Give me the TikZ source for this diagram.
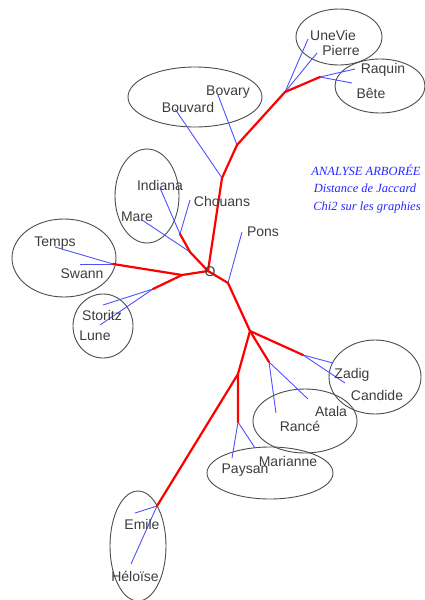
\documentclass[tikz,border=0pt]{standalone}
\usepackage{fontspec}
\setmainfont{Liberation Sans}
\newfontfamily\titlefont{Liberation Serif}
\usepackage{xcolor}
\usetikzlibrary{positioning}
\definecolor{treered}{RGB}{255,0,0}
\definecolor{leafblue}{RGB}{80,80,255}
\definecolor{labelgray}{RGB}{60,60,60}
\definecolor{titleblue}{RGB}{40,40,255}
\tikzset{
  redbranch/.style={treered, line width=2.2pt, line cap=round, line join=round},
  bluebranch/.style={leafblue, line width=0.9pt},
  grouping/.style={draw=black!70, line width=0.9pt},
  leaflabel/.style={labelgray, inner sep=0pt, font=\fontsize{14}{16}\selectfont},
  titleline/.style={titleblue, inner sep=0pt, font=\titlefont\itshape\fontsize{12.5}{14}\selectfont}
}

\begin{document}
\begin{tikzpicture}[x=1pt, y=-1pt]
      \useasboundingbox (0,0) rectangle (424,600);
      % junctions of the tree
      \coordinate (o) at (208,271);
      \coordinate (a1) at (222,178);
      \coordinate (a2) at (237,145);
      \coordinate (a3) at (285,92);
      \coordinate (a4) at (320,77);
      \coordinate (b1) at (190,252);
      \coordinate (b2) at (180,234);
      \coordinate (c1) at (182,275);
      \coordinate (c2) at (113,264);
      \coordinate (c3) at (153,289);
      \coordinate (d1) at (228,283);
      \coordinate (d2) at (250,331);
      \coordinate (d3) at (303,355);
      \coordinate (d4) at (269,362);
      \coordinate (d5) at (238,374);
      \coordinate (d6) at (238,422);
      \coordinate (d7) at (157,506);
      % ends of the leaves
      \coordinate (bouvard-tip) at (175,109);
      \coordinate (bovary-tip) at (218,95);
      \coordinate (unevie-tip) at (308,39);
      \coordinate (pierre-tip) at (317,53);
      \coordinate (raquin-tip) at (355,69);
      \coordinate (bete-tip) at (352,83);
      \coordinate (mare-tip) at (142,220);
      \coordinate (indiana-tip) at (160,188);
      \coordinate (chouans-tip) at (190,200);
      \coordinate (temps-tip) at (55,247);
      \coordinate (swann-tip) at (80,264);
      \coordinate (storitz-tip) at (103,305);
      \coordinate (lune-tip) at (100,325);
      \coordinate (pons-tip) at (242,232);
      \coordinate (zadig-tip) at (333,363);
      \coordinate (candide-tip) at (345,383);
      \coordinate (rance-tip) at (276,413);
      \coordinate (atala-tip) at (308,399);
      \coordinate (paysan-tip) at (232,458);
      \coordinate (marianne-tip) at (255,448);
      \coordinate (emile-tip) at (135,513);
      \coordinate (heloise-tip) at (131,564);

      % groups
      \draw[grouping] (339,37) ellipse [x radius=43, y radius=28];
      \draw[grouping] (380,86) ellipse [x radius=45, y radius=27];
      \draw[grouping] (195,97) ellipse [x radius=67, y radius=30];
      \draw[grouping] (147,196) ellipse [x radius=32, y radius=47];
      \draw[grouping] (64,258) ellipse [x radius=52, y radius=39];
      \draw[grouping] (103,326) ellipse [x radius=30, y radius=32];
      \draw[grouping] (375,377) ellipse [x radius=46, y radius=37];
      \draw[grouping] (305,421) ellipse [x radius=52, y radius=32];
      \draw[grouping] (270,473) ellipse [x radius=63, y radius=26];
      \draw[grouping] (138,546) ellipse [x radius=28, y radius=55];

      % leaves
      \draw[bluebranch] (a1) -- (bouvard-tip);
      \draw[bluebranch] (a2) -- (bovary-tip);
      \draw[bluebranch] (a3) -- (unevie-tip);
      \draw[bluebranch] (a3) -- (pierre-tip);
      \draw[bluebranch] (a4) -- (raquin-tip);
      \draw[bluebranch] (a4) -- (bete-tip);
      \draw[bluebranch] (b1) -- (mare-tip);
      \draw[bluebranch] (b2) -- (indiana-tip);
      \draw[bluebranch] (b2) -- (chouans-tip);
      \draw[bluebranch] (c2) -- (temps-tip);
      \draw[bluebranch] (c2) -- (swann-tip);
      \draw[bluebranch] (c3) -- (storitz-tip);
      \draw[bluebranch] (c3) -- (lune-tip);
      \draw[bluebranch] (d1) -- (pons-tip);
      \draw[bluebranch] (d3) -- (zadig-tip);
      \draw[bluebranch] (d3) -- (candide-tip);
      \draw[bluebranch] (d4) -- (rance-tip);
      \draw[bluebranch] (d4) -- (atala-tip);
      \draw[bluebranch] (d6) -- (paysan-tip);
      \draw[bluebranch] (d6) -- (marianne-tip);
      \draw[bluebranch] (d7) -- (emile-tip);
      \draw[bluebranch] (d7) -- (heloise-tip);

      % branches
      \draw[redbranch] (o) -- (a1) -- (a2) -- (a3) -- (a4);
      \draw[redbranch] (o) -- (b1) -- (b2);
      \draw[redbranch] (o) -- (c1) -- (c2);
      \draw[redbranch] (c1) -- (c3);
      \draw[redbranch] (o) -- (d1) -- (d2) -- (d3);
      \draw[redbranch] (d2) -- (d4);
      \draw[redbranch] (d2) -- (d5) -- (d6);
      \draw[redbranch] (d5) -- (d7);

      % labels
      \node[leaflabel] (origin) at (210,272) {O};
      \node[leaflabel] (unevie) at (333,35) {UneVie};
      \node[leaflabel] (pierre) at (341,50) {Pierre};
      \node[leaflabel] (raquin) at (383,70) {Raquin};
      \node[leaflabel] (bete) at (371,93) {Bête};
      \node[leaflabel] (bovary) at (228,92) {Bovary};
      \node[leaflabel] (bouvard) at (188,107) {Bouvard};
      \node[leaflabel] (indiana) at (160,185) {Indiana};
      \node[leaflabel] (chouans) at (222,201) {Chouans};
      \node[leaflabel] (mare) at (137,217) {Mare};
      \node[leaflabel] (pons) at (263,232) {Pons};
      \node[leaflabel] (temps) at (55,243) {Temps};
      \node[leaflabel] (swann) at (82,274) {Swann};
      \node[leaflabel] (storitz) at (102,315) {Storitz};
      \node[leaflabel] (lune) at (95,336) {Lune};
      \node[leaflabel] (zadig) at (352,375) {Zadig};
      \node[leaflabel] (candide) at (377,395) {Candide};
      \node[leaflabel] (atala) at (331,411) {Atala};
      \node[leaflabel] (rance) at (300,426) {Rancé};
      \node[leaflabel] (marianne) at (288,461) {Marianne};
      \node[leaflabel] (paysan) at (245,470) {Paysan};
      \node[leaflabel] (emile) at (142,524) {Emile};
      \node[leaflabel] (heloise) at (135,576) {Héloïse};

      % title
      \node[titleline] (title1) at (366,170) {ANALYSE ARBORÉE};
      \node[titleline] (title2) at (365,188) {Distance de Jaccard};
      \node[titleline] (title3) at (367,207) {Chi2 sur les graphies};
    \end{tikzpicture}
\end{document}
